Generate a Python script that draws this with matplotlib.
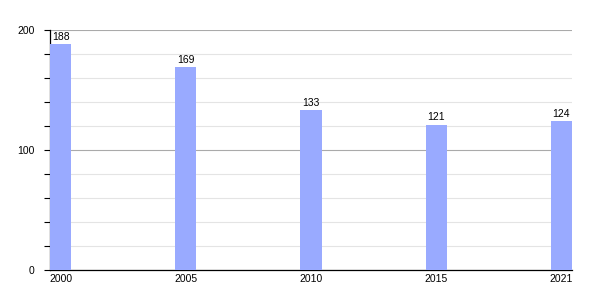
import matplotlib

matplotlib.use("Agg")
import matplotlib.pyplot as plt
from matplotlib.ticker import MultipleLocator

plt.rcParams["font.family"] = ["Liberation Sans", "DejaVu Sans"]

years = ["2000", "2005", "2010", "2015", "2021"]
population = [188, 169, 133, 121, 124]

fig = plt.figure(figsize=(6, 3), dpi=100)
ax = fig.add_axes([50 / 600, 30 / 300, 522 / 600, 240 / 300])

x = range(len(years))
ax.bar(x, population, width=0.17, color="#99aaff", zorder=3)

for xi, val in zip(x, population):
    ax.text(xi, val + 2, str(val), ha="center", va="bottom", fontsize=7.5, color="black", zorder=4)

ax.set_xlim(-0.085, 4.085)
ax.set_ylim(0, 200)
ax.set_xticks(list(x))
ax.set_xticklabels(years, fontsize=7.5)
ax.tick_params(axis="x", length=0, pad=3)

ax.yaxis.set_major_locator(MultipleLocator(100))
ax.yaxis.set_minor_locator(MultipleLocator(20))
ax.tick_params(axis="y", which="major", length=4, width=0.8, labelsize=7.5, pad=7)
ax.tick_params(axis="y", which="minor", length=4, width=0.8)

ax.grid(axis="y", which="major", color="#aaaaaa", linewidth=0.8, zorder=0)
ax.grid(axis="y", which="minor", color="#e4e4e4", linewidth=0.8, zorder=0)

for side in ["top", "right"]:
    ax.spines[side].set_visible(False)
ax.spines["left"].set_linewidth(0.9)
ax.spines["bottom"].set_linewidth(0.9)

fig.savefig("out.png", dpi=100)
